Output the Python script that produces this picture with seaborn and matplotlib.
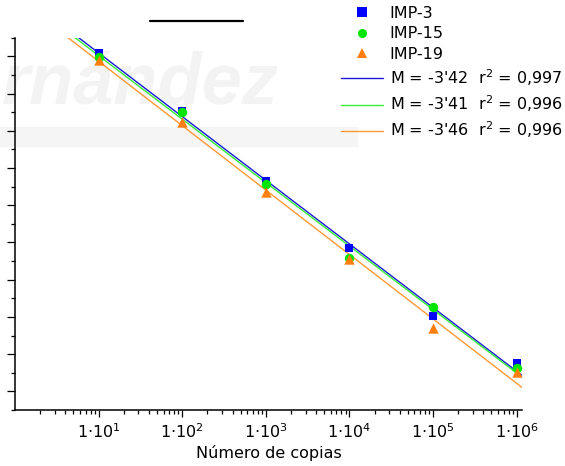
import numpy as np
import pandas as pd
import matplotlib
matplotlib.use("Agg")
import matplotlib.pyplot as plt
from matplotlib.lines import Line2D
from matplotlib.patches import Rectangle
from matplotlib.ticker import MultipleLocator, NullFormatter, LogLocator, FixedLocator, FixedFormatter
import seaborn as sns

# Standard curve data: copy number vs. threshold cycle
copies = [1e1, 1e2, 1e3, 1e4, 1e5, 1e6]
ct_imp3 = [34.16, 31.06, 27.31, 23.71, 20.04, 17.52]
ct_imp15 = [33.98, 31.02, 27.13, 23.15, 20.51, 17.28]
ct_imp19 = [33.80, 30.48, 26.72, 23.09, 19.38, 17.04]
series_names = ["IMP-3", "IMP-15", "IMP-19"]
slopes = [-3.42, -3.41, -3.46]
slope_text = ["-3'42", "-3'41", "-3'46"]
r2_text = ["0,997", "0,996", "0,996"]
xtick_values = [1e1, 1e2, 1e3, 1e4, 1e5, 1e6]
xtick_labels = ["1·10$^{1}$", "1·10$^{2}$", "1·10$^{3}$",
                "1·10$^{4}$", "1·10$^{5}$", "1·10$^{6}$"]
x_label = "Número de copias"

marker_colors = ["#0000ff", "#00e600", "#ff7f0e"]
line_colors = ["#1a1ad6", "#33ee33", "#ff9933"]
markers = ["s", "o", "^"]
marker_sizes = [36, 46, 56]

sns.set_theme(style="ticks")
plt.rcParams["font.family"] = ["DejaVu Sans"]
plt.rcParams["mathtext.fontset"] = "dejavusans"
plt.rcParams["text.color"] = "black"
plt.rcParams["axes.labelcolor"] = "black"
plt.rcParams["xtick.color"] = "black"
plt.rcParams["ytick.color"] = "black"

FS = 11.5
W, H = 565, 466
fig = plt.figure(figsize=(W / 100, H / 100), dpi=100, facecolor="white")
ax = fig.add_axes([15 / W, 1 - 410 / H, (522 - 15) / W, (410 - 37.7) / H])
ax.set_facecolor("none")

# faint background watermark
fig.patches.append(Rectangle((0, 1 - 146 / H), 357 / W, 19 / H,
                             transform=fig.transFigure, color="#f5f5f5",
                             zorder=-3))
fig.text(2 / W, 1 - 104 / H, "rnández", ha="left", va="baseline",
         fontsize=52, fontweight="bold", fontstyle="italic",
         family="Liberation Sans", color="#f3f3f3", zorder=-2)
fig.add_artist(Line2D([150 / W, 243 / W], [1 - 20.5 / H, 1 - 20.5 / H],
                      transform=fig.transFigure, color="black", lw=1.6))

ax.set_xscale("log")
xmin, xmax = 1.0, 1.16e6

# regression lines with the stated slopes
all_ct = [ct_imp3, ct_imp15, ct_imp19]
logx = np.log10(copies)
grid = np.logspace(np.log10(xmin), np.log10(xmax), 60)
fit_rows = []
for name, m, ct in zip(series_names, slopes, all_ct):
    b = np.mean(ct) - m * np.mean(logx)
    for g in grid:
        fit_rows.append({"copias": g, "Ct": b + m * np.log10(g), "serie": name})
fit_df = pd.DataFrame(fit_rows)
sns.lineplot(data=fit_df, x="copias", y="Ct", hue="serie",
             palette=dict(zip(series_names, line_colors)), lw=1.0,
             legend=False, sort=False, ax=ax, zorder=2)

# measured points
for name, ct, col, mk, s in zip(series_names, all_ct, marker_colors, markers, marker_sizes):
    pts = pd.DataFrame({"copias": copies, "Ct": ct})
    sns.scatterplot(data=pts, x="copias", y="Ct", color=col, marker=mk, s=s,
                    linewidth=0, ax=ax, zorder=3, legend=False)

ax.set_xlim(xmin, xmax)
ax.set_ylim(15, 35)
ax.xaxis.set_major_locator(FixedLocator(xtick_values))
ax.xaxis.set_major_formatter(FixedFormatter(xtick_labels))
ax.xaxis.set_minor_locator(LogLocator(base=10, subs=np.arange(2, 10)))
ax.xaxis.set_minor_formatter(NullFormatter())
ax.yaxis.set_major_locator(MultipleLocator(2))
ax.yaxis.set_minor_locator(MultipleLocator(1))
ax.yaxis.set_major_formatter(NullFormatter())

for s in ["top", "right"]:
    ax.spines[s].set_visible(False)
for s in ["left", "bottom"]:
    ax.spines[s].set_linewidth(1.1)
    ax.spines[s].set_color("black")

ax.tick_params(axis="x", which="major", direction="out", length=5, width=0.9,
               labelsize=FS, pad=4, colors="black")
ax.tick_params(axis="x", which="minor", direction="out", length=3, width=0.9,
               colors="black")
ax.tick_params(axis="y", which="major", direction="out", length=6, width=0.9,
               colors="black")
ax.tick_params(axis="y", which="minor", direction="out", length=3, width=0.9,
               colors="black")
ax.set_xlabel(x_label, fontsize=FS, labelpad=3, color="black")
ax.set_ylabel("")

handles = []
labels = []
for name, col, mk in zip(series_names, marker_colors, markers):
    handles.append(Line2D([], [], marker=mk, color=col, linestyle="None",
                          markersize=6.5, markeredgewidth=0))
    labels.append(name)
for col, st, r2 in zip(line_colors, slope_text, r2_text):
    handles.append(Line2D([], [], color=col, lw=1.0))
    labels.append(f"M = {st}  r$^2$ = {r2}")

leg = fig.legend(handles, labels, loc="upper left",
                 bbox_to_anchor=(341 / W, 1 - 6 / H), frameon=False,
                 fontsize=FS, handlelength=2.6, handletextpad=0.45,
                 labelspacing=0.34, borderpad=0, borderaxespad=0)
for t in leg.get_texts():
    t.set_color("black")

fig.savefig("out.png", dpi=100, facecolor="white")
